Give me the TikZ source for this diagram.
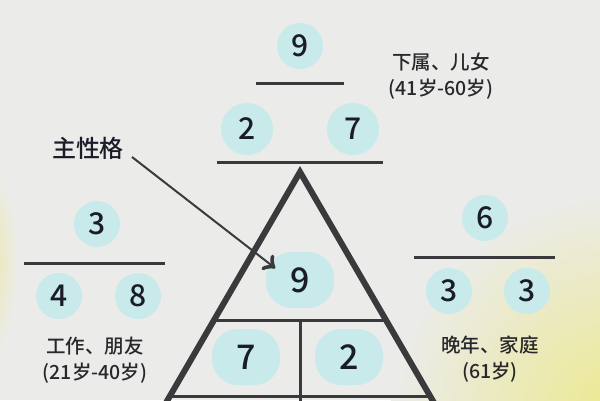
\documentclass[tikz,border=0pt]{standalone}
\usepackage{fontspec}
\setmainfont{Noto Sans CJK SC}[UprightFont={* Medium}]
\usetikzlibrary{decorations.markings}
\usetikzlibrary{positioning}
\tikzset{pointer/.style = {decoration={markings,
                                       mark=at position 1 with {\arrow[scale=2.2]{to}}},
                           postaction={decorate}}}
\tikzset{num/.style = {circle, fill=mcyan, inner sep=0, minimum size=46,
                       text=mink, font=\fontsize{30}{30}\selectfont}}
\tikzset{bignum/.style = {rectangle, rounded corners=26, fill=mcyan, inner sep=0,
                          minimum width=68, minimum height=56,
                          text=mink, font=\fontsize{34}{34}\selectfont}}
\tikzset{bar/.style = {line width=3, mline}}
\tikzset{note/.style = {align=center, text=mtext, font=\fontsize{19.5}{26}\selectfont}}
\definecolor{mbg}{RGB}{235, 235, 234}
\definecolor{mcyan}{RGB}{200, 234, 235}
\definecolor{myellow}{RGB}{236, 233, 140}
\definecolor{mline}{RGB}{58, 58, 60}
\definecolor{mink}{RGB}{26, 28, 40}
\definecolor{mtext}{RGB}{40, 40, 44}
\begin{document}
\begin{tikzpicture}[x=1pt, y=-1pt]
      \useasboundingbox (0, 0) rectangle (600, 400);
      \clip (0, 0) rectangle (600, 400);
      \fill [mbg] (0, 0) rectangle (600, 400);
      \shade [inner color=myellow!70!mbg, outer color=mbg] (-14, 262) ellipse [x radius=32, y radius=100];
      \shade [inner color=myellow, outer color=mbg] (620, 420) circle [radius=230];

      % upper group
      \node [num] (t9) at (300, 46) {9};
      \draw [bar] (256, 83) -- (344, 83);
      \node [num, minimum size=52] (t2) at (247, 129) {2};
      \node [num, minimum size=52] (t7) at (353, 129) {7};
      \draw [bar] (217, 162) -- (383, 162);
      \node [note] (tnote) at (441, 76) {下属、儿女\\(41岁-60岁)};

      % left group
      \node [num] (l3) at (97, 224) {3};
      \draw [bar] (24, 263) -- (165, 263);
      \node [num] (l4) at (59, 296) {4};
      \node [num] (l8) at (138, 296) {8};
      \node [note] (lnote) at (95, 360) {工作、朋友\\(21岁-40岁)};

      % right group
      \node [num] (r6) at (485, 218) {6};
      \draw [bar] (414, 257) -- (555, 257);
      \node [num] (r3a) at (449, 291) {3};
      \node [num] (r3b) at (527, 291) {3};
      \node [note] (rnote) at (490, 359) {晚年、家庭\\(61岁)};

      % triangle
      \node [bignum] (c9) at (300, 280) {9};
      \node [bignum] (c7) at (246, 357) {7};
      \node [bignum] (c2) at (349, 357) {2};
      \draw [line width=6, mline, miter limit=20] (156, 420) -- (300, 172) -- (444, 420);
      \draw [bar] (214, 320) -- (386, 320);
      \draw [bar] (300, 320) -- (300, 420);
      \draw [bar] (168, 396) -- (432, 396);

      \node [font=\fontsize{24}{24}\selectfont, text=mink] (main) at (88, 148) {主性格};
      \coordinate (tip) at (275, 268);
      \draw [pointer, line width=2, mline] (132, 157) -- (tip);
    \end{tikzpicture}
\end{document}
